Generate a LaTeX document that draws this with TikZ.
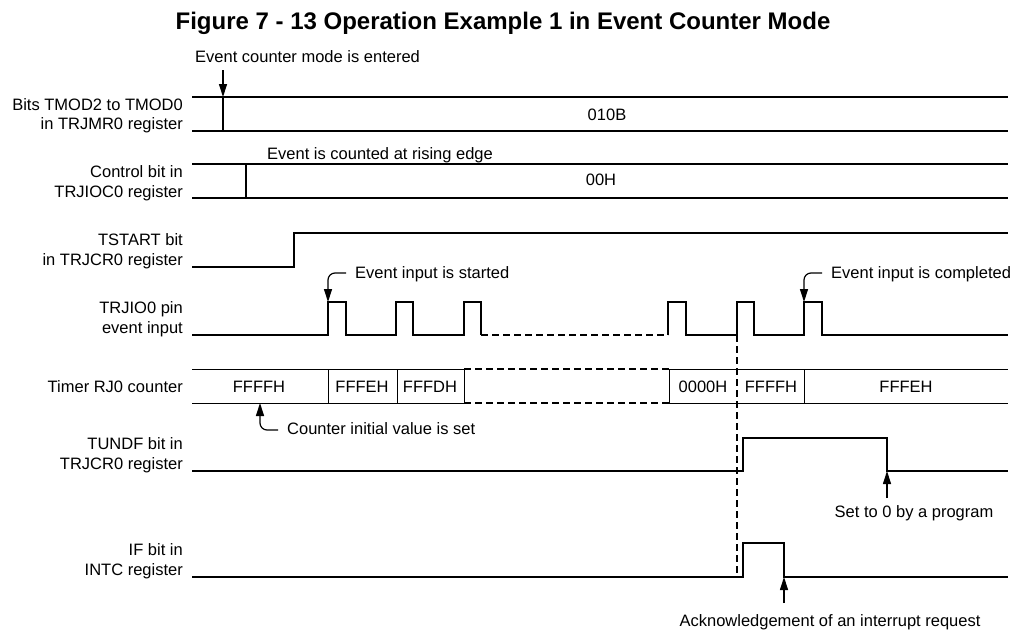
\documentclass[tikz,border=0pt]{standalone}
\usepackage{fontspec}
\setmainfont{Liberation Sans}
\usetikzlibrary{arrows.meta}
\begin{document}
\begin{tikzpicture}[x=1pt,y=-1pt,
  lbl/.style={font=\fontsize{16.5}{19}\selectfont, inner sep=0pt},
  ttl/.style={font=\fontsize{24}{28}\selectfont\bfseries, inner sep=0pt},
  wave/.style={line width=1.3pt, line join=miter},
  thin/.style={line width=1pt},
  dsh/.style={line width=1.8pt, dash pattern=on 7pt off 4pt},
  note/.style={line width=1.2pt, -{Triangle[length=13pt,width=8pt]}},
  hook/.style={note, rounded corners=7pt}]
\useasboundingbox (0,0) rectangle (1015,632);

% title
\node[ttl, anchor=base] (title) at (503,29) {Figure 7 - 13 Operation Example 1 in Event Counter Mode};

% left labels
\node[lbl, anchor=base east] (l1a) at (183,110) {Bits TMOD2 to TMOD0};
\node[lbl, anchor=base east] (l1b) at (183,129) {in TRJMR0 register};
\node[lbl, anchor=base east] (l2a) at (183,177) {Control bit in};
\node[lbl, anchor=base east] (l2b) at (183,197) {TRJIOC0 register};
\node[lbl, anchor=base east] (l3a) at (183,245) {TSTART bit};
\node[lbl, anchor=base east] (l3b) at (183,265) {in TRJCR0 register};
\node[lbl, anchor=base east] (l4a) at (183,313) {TRJIO0 pin};
\node[lbl, anchor=base east] (l4b) at (183,333) {event input};
\node[lbl, anchor=base east] (l5) at (183,392) {Timer RJ0 counter};
\node[lbl, anchor=base east] (l6a) at (183,449) {TUNDF bit in};
\node[lbl, anchor=base east] (l6b) at (183,469) {TRJCR0 register};
\node[lbl, anchor=base east] (l7a) at (183,555) {IF bit in};
\node[lbl, anchor=base east] (l7b) at (183,575) {INTC register};

% row 1: TMOD
\draw[wave] (192,97) -- (1008,97);
\draw[wave] (192,131) -- (1008,131);
\draw[wave] (223,97) -- (223,131);
\node[lbl, anchor=base] (v010b) at (607,120) {010B};

% row 2: control bit
\draw[wave] (192,164) -- (1008,164);
\draw[wave] (192,198) -- (1008,198);
\draw[wave] (246,164) -- (246,198);
\node[lbl, anchor=base] (v00h) at (601,185) {00H};

% row 3: TSTART
\draw[wave] (192,267) -- (294,267) -- (294,233) -- (1008,233);

% row 4: TRJIO0
\draw[wave] (192,335) -- (328,335) -- (328,302) -- (346,302) -- (346,335)
  -- (396,335) -- (396,302) -- (413,302) -- (413,335)
  -- (464,335) -- (464,302) -- (481,302) -- (481,335);
\draw[dsh] (481,335) -- (668,335);
\draw[wave] (668,335) -- (668,302) -- (686,302) -- (686,335) -- (737,335)
  -- (737,302) -- (754,302) -- (754,335) -- (804,335) -- (804,302)
  -- (822,302) -- (822,335) -- (1008,335);

% row 5: counter
\draw[thin] (192,369) -- (464,369);
\draw[thin] (192,403) -- (464,403);
\draw[dsh] (464,369) -- (669,369);
\draw[dsh] (464,403) -- (669,403);
\draw[thin] (669,369) -- (1008,369);
\draw[thin] (669,403) -- (1008,403);
\foreach \xx in {328,397,464,669,804} \draw[thin] (\xx,369) -- (\xx,403);
\node[lbl, anchor=base] (c1) at (259,392) {FFFFH};
\node[lbl, anchor=base] (c2) at (362,392) {FFFEH};
\node[lbl, anchor=base] (c3) at (430,392) {FFFDH};
\node[lbl, anchor=base] (c4) at (703,392) {0000H};
\node[lbl, anchor=base] (c5) at (771,392) {FFFFH};
\node[lbl, anchor=base] (c6) at (906,392) {FFFEH};

% row 6: TUNDF
\draw[wave] (192,471) -- (743,471) -- (743,438) -- (887,438) -- (887,471) -- (1008,471);

% row 7: IF
\draw[wave] (192,577) -- (743,577) -- (743,543) -- (784,543) -- (784,577) -- (1008,577);

% long dashed marker
\draw[dsh] (737,335) -- (737,577);

% annotations
\node[lbl, anchor=base west] (n1) at (195,62) {Event counter mode is entered};
\coordinate (n1s) at (223,70);
\coordinate (n1t) at (223,97);
\draw[note] (n1s) -- (n1t);

\node[lbl, anchor=base west] (n2) at (267,159) {Event is counted at rising edge};

\node[lbl, anchor=base west] (n3) at (355,278) {Event input is started};
\coordinate (n3s) at (346,273);
\coordinate (n3t) at (328,302);
\draw[hook] (n3s) -| (n3t);

\node[lbl, anchor=base west] (n4) at (831,278) {Event input is completed};
\coordinate (n4s) at (822,273);
\coordinate (n4t) at (804,302);
\draw[hook] (n4s) -| (n4t);

\node[lbl, anchor=base west] (n5) at (287,434) {Counter initial value is set};
\coordinate (n5s) at (278,430);
\coordinate (n5t) at (260,403);
\draw[hook] (n5s) -| (n5t);

\node[lbl, anchor=base] (n6) at (914,517) {Set to 0 by a program};
\coordinate (n6s) at (887,498);
\coordinate (n6t) at (887,471);
\draw[note] (n6s) -- (n6t);

\node[lbl, anchor=base] (n7) at (830,626) {Acknowledgement of an interrupt request};
\coordinate (n7s) at (784,603);
\coordinate (n7t) at (784,577);
\draw[note] (n7s) -- (n7t);
\end{tikzpicture}
\end{document}
